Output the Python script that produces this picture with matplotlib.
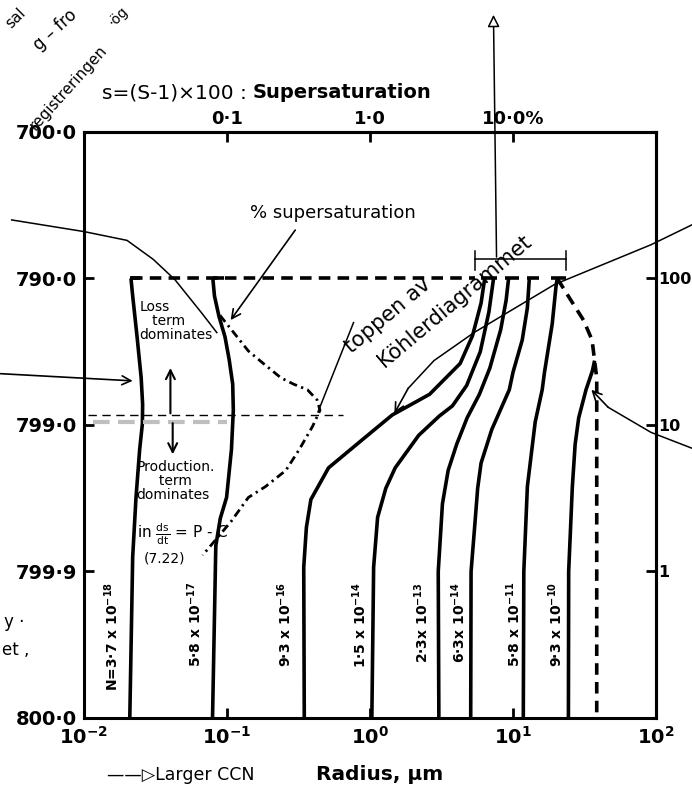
import matplotlib.pyplot as plt
from matplotlib.ticker import NullLocator

plt.rcParams['font.family'] = ['DejaVu Sans']
plt.rcParams['mathtext.default'] = 'bf'

# vertical coordinate is 800 - p (mb), drawn on a log scale
level_ticks = [100, 10, 1, 0.1, 0.01]
level_labels = ['700·0', '790·0', '799·0', '799·9', '800·0']
right_ticks = [10, 1, 0.1]
right_labels = ['100', '10', '1']
radius_ticks = [0.01, 0.1, 1, 10, 100]
radius_labels = [r'$10^{-2}$', r'$10^{-1}$', r'$10^{0}$', r'$10^{1}$', r'$10^{2}$']
super_ticks = [0.1, 1, 10]
super_labels = ['0·1', '1·0', '10·0%']

ccn_labels = ['N=3·7 x 10$^{-18}$', '5·8 x 10$^{-17}$', '9·3 x 10$^{-16}$',
              '1·5 x 10$^{-14}$', '2·3x 10$^{-13}$', '6·3x 10$^{-14}$',
              '5·8 x 10$^{-11}$', '9·3 x 10$^{-10}$']

# droplet radius (um) down each growth curve, top to bottom
n18_r = [0.0213, 0.0219, 0.0235, 0.0251, 0.0257, 0.0256, 0.0245, 0.0231, 0.0219, 0.0209]
n18_d = [10, 7.6, 4.0, 2.1, 1.38, 1.02, 0.68, 0.32, 0.126, 0.01]
n17_r = [0.0796, 0.0817, 0.0879, 0.0968, 0.1035, 0.1096, 0.1107, 0.1074, 0.0993, 0.0897, 0.0835, 0.0792]
n17_d = [10, 7.6, 5.5, 4.0, 2.8, 1.9, 1.26, 0.68, 0.32, 0.23, 0.15, 0.01]
n16_r = [6.34, 5.98, 5.21, 4.27, 2.61, 1.43, 0.879, 0.513, 0.386, 0.359, 0.344, 0.347]
n16_d = [10, 6.8, 4.07, 2.63, 1.62, 1.17, 0.79, 0.51, 0.31, 0.2, 0.107, 0.01]
n14a_r = [7.31, 6.78, 5.90, 4.74, 3.77, 3.05, 2.19, 1.50, 1.29, 1.13, 1.06, 1.03]
n14a_d = [10, 5.9, 3.16, 1.86, 1.35, 1.15, 0.85, 0.51, 0.37, 0.234, 0.107, 0.01]
n13_r = [9.31, 8.95, 8.20, 6.89, 5.82, 4.78, 4.04, 3.52, 3.21, 3.00, 3.03]
n13_d = [10, 7.1, 4.47, 2.45, 1.62, 1.12, 0.74, 0.49, 0.29, 0.1, 0.01]
n14b_r = [13.0, 12.6, 11.6, 10.0, 9.42, 7.10, 5.98, 5.66, 5.43, 5.09, 5.06]
n14b_d = [10, 6.3, 3.8, 2.29, 1.74, 0.93, 0.55, 0.37, 0.22, 0.1, 0.01]
n11_r = [20.4, 20.0, 18.8, 16.6, 16.0, 14.3, 13.8, 12.6, 11.9, 11.8]
n11_d = [10, 8.9, 4.9, 2.29, 1.74, 1.05, 0.79, 0.38, 0.1, 0.01]
n10_r = [37.2, 35.9, 32.4, 28.8, 27.2, 26.0, 24.5, 24.4]
n10_d = [2.75, 2.34, 1.74, 1.12, 0.74, 0.38, 0.1, 0.01]

ccn_radius = [n18_r, n17_r, n16_r, n14a_r, n13_r, n14b_r, n11_r, n10_r]
ccn_level = [n18_d, n17_d, n16_d, n14a_d, n13_d, n14b_d, n11_d, n10_d]

# largest drops (dashed boundary)
edge_r = [20.4, 25.4, 31.1, 35.7, 37.2, 38.5, 38.5]
edge_d = [10, 7.1, 5.2, 3.8, 2.75, 2.09, 0.01]

# % supersaturation profile (read on the top scale)
ss_pct = [0.0893, 0.113, 0.141, 0.182, 0.238, 0.292, 0.365, 0.427, 0.447,
          0.397, 0.320, 0.258, 0.186, 0.141, 0.107, 0.0822, 0.0675]
ss_d = [5.6, 4.2, 3.2, 2.6, 2.1, 1.9, 1.74, 1.48, 1.26,
        0.98, 0.68, 0.49, 0.38, 0.32, 0.22, 0.162, 0.129]

# cloud base line and the short caps on top of the curves
base_d = 10
base_span = [0.0213, 5.4]
cap_spans = [(0.0209, 0.0246), (0.0796, 0.0957), (6.0, 7.7), (8.73, 11.1), (12.6, 15.1), (18.5, 23.6)]

fig = plt.figure(figsize=(6.92, 7.98), dpi=100)
ax = fig.add_axes([0.1214, 0.1003, 0.8266, 0.7343])
ax.set_xscale('log')
ax.set_yscale('log')
ax.set_xlim(0.01, 100)
ax.set_ylim(0.01, 100)

for r, d in zip(ccn_radius, ccn_level):
    ax.plot(r, d, color='black', lw=2.6, solid_capstyle='butt')
ax.plot(edge_r, edge_d, color='black', lw=2.6, dashes=(3.2, 2.0))
ax.plot(ss_pct, ss_d, color='black', lw=2.0, linestyle=(0, (3.0, 1.6, 0.8, 1.6)))
ax.plot(base_span, [base_d, base_d], color='black', lw=2.6, dashes=(3.2, 2.0))
for a, b in cap_spans:
    ax.plot([a, b], [base_d, base_d], color='black', lw=2.6, solid_capstyle='butt')

# curve labels, just left of each curve foot
label_shift = [13, 13, 14, 9, 12, 9, 7, 9]
for lab, r, s in zip(ccn_labels, ccn_radius, label_shift):
    ax.annotate(lab, xy=(r[-1], 0.085), xytext=(-s, 0), textcoords='offset points',
                rotation=90, ha='center', va='top', fontsize=10, fontweight='bold')

# axes styling
for sp in ax.spines.values():
    sp.set_linewidth(2.2)
ax.set_yticks(level_ticks, labels=level_labels)
ax.set_xticks(radius_ticks, labels=radius_labels)
ax.xaxis.set_minor_locator(NullLocator())
ax.yaxis.set_minor_locator(NullLocator())
ax.tick_params(direction='in', length=7, width=2, labelsize=14, top=False, right=False)
ax.tick_params(axis='y', pad=5)
ax.tick_params(axis='x', pad=6)
for t in ax.get_xticklabels() + ax.get_yticklabels():
    t.set_fontweight('bold')

top = ax.secondary_xaxis('top')
top.set_xticks(super_ticks, labels=super_labels)
top.xaxis.set_minor_locator(NullLocator())
top.tick_params(direction='in', length=7, width=2, labelsize=13, pad=3)
top.spines['top'].set_linewidth(2.2)
for t in top.get_xticklabels():
    t.set_fontweight('bold')

rgt = ax.secondary_yaxis('right')
rgt.set_yticks(right_ticks, labels=right_labels)
rgt.yaxis.set_minor_locator(NullLocator())
rgt.tick_params(direction='in', length=7, width=2, labelsize=11.5, pad=1.5)
rgt.spines['right'].set_linewidth(2.2)
for t in rgt.get_yticklabels():
    t.set_fontweight('bold')

ax.text(0.295, 1.068, 'Supersaturation', transform=ax.transAxes, ha='left', va='center',
        fontsize=14, fontweight='bold')
ax.text(0.285, 1.066, 's=(S-1)×100 :', transform=ax.transAxes, ha='right', va='center', fontsize=14.5)
ax.text(0.517, -0.097, 'Radius, μm', transform=ax.transAxes, ha='center', va='center',
        fontsize=14.5, fontweight='bold')
ax.text(0.040, -0.097, '——▷Larger CCN', transform=ax.transAxes, ha='left', va='center', fontsize=12.5)

# hand-written notes
thin = dict(color='black', lw=1.1, clip_on=False)
note = dict(fontsize=10, ha='left', va='top', linespacing=1.0)
ax.text(0.0243, 7.1, 'Loss\n   term\ndominates', **note)
ax.text(0.0233, 0.58, 'Production.\n     term\ndominates', **note)
ax.text(0.0236, 0.18, r'in $\frac{\mathrm{ds}}{\mathrm{dt}}$ = P - C', fontsize=11, ha='left', va='center')
ax.text(0.0262, 0.122, '(7.22)', fontsize=10, ha='left', va='center')
ax.text(0.552, 28, '% supersaturation', fontsize=13, ha='center', va='center')
ax.text(1.34, 5.6, 'toppen av', fontsize=15, rotation=40, ha='center', va='center')
ax.text(3.89, 7.0, 'Köhlerdiagrammet', fontsize=15, rotation=40, ha='center', va='center')

arrow = dict(arrowstyle='->', color='black', lw=1.2, mutation_scale=16, shrinkA=0, shrinkB=0)
ax.plot([0.00312, 0.01, 0.02, 0.0305, 0.0433, 0.0671, 0.0849],
        [25.1, 20.9, 18.2, 13.5, 9.8, 5.75, 4.27], **thin)
ax.annotate('', xy=(0.0219, 2.0), xytext=(0.0026, 2.24), arrowprops=arrow, annotation_clip=False)
ax.annotate('', xy=(0.106, 5.2), xytext=(0.30, 21.4), arrowprops=arrow, annotation_clip=False)
ax.plot([0.767, 0.433], [5.0, 1.23], **thin)
ax.plot([0.0107, 0.65], [1.17, 1.17], color='black', lw=1.0, dashes=(6, 4))
ax.plot([0.0115, 0.1], [1.05, 1.05], color='0.75', lw=3, dashes=(4, 2))
ax.annotate('', xy=(0.0402, 2.45), xytext=(0.0402, 1.20), arrowprops=dict(arrow, lw=1.5))
ax.annotate('', xy=(0.0417, 0.63), xytext=(0.0417, 1.03), arrowprops=dict(arrow, lw=1.5))

kr = [181, 92.3, 19.5, 5.33, 2.80, 1.85]
kd = [23.4, 17.0, 9.1, 4.27, 2.75, 1.78]
ax.plot(kr, kd, **thin)
ax.annotate('', xy=(1.48, 1.20), xytext=(1.85, 1.78), arrowprops=arrow, annotation_clip=False)
ax.plot([181, 92.3, 46.3], [0.69, 0.89, 1.32], **thin)
ax.annotate('', xy=(35.3, 1.74), xytext=(46.3, 1.32), arrowprops=arrow, annotation_clip=False)

ax.plot([5.4, 23.6], [13.5, 13.5], **thin)
ax.plot([5.4, 5.4], [11.5, 15.5], **thin)
ax.plot([23.6, 23.6], [11.5, 15.5], **thin)
ax.annotate('', xy=(7.3, 631), xytext=(7.67, 14),
            arrowprops=dict(arrowstyle='-|>', fc='white', ec='black', lw=1.1, mutation_scale=18,
                            shrinkA=0, shrinkB=0), annotation_clip=False)

# cut-off scribbles at the page edge
fig.text(16 / 692, 1 - 18 / 798, 'sal', rotation=45, fontsize=11, ha='center', va='center')
fig.text(55 / 692, 1 - 30 / 798, 'g – fro', rotation=42, fontsize=12, ha='center', va='center')
fig.text(68 / 692, 1 - 88 / 798, 'registreringen', rotation=48, fontsize=11, ha='center', va='center')
fig.text(118 / 692, 1 - 16 / 798, '·ög', rotation=45, fontsize=10, ha='center', va='center')
fig.text(4 / 692, 1 - 622 / 798, 'y ·', fontsize=12, ha='left', va='center')
fig.text(2 / 692, 1 - 650 / 798, 'et ,', fontsize=12, ha='left', va='center')

fig.savefig('out.png', dpi=100, facecolor='white')
